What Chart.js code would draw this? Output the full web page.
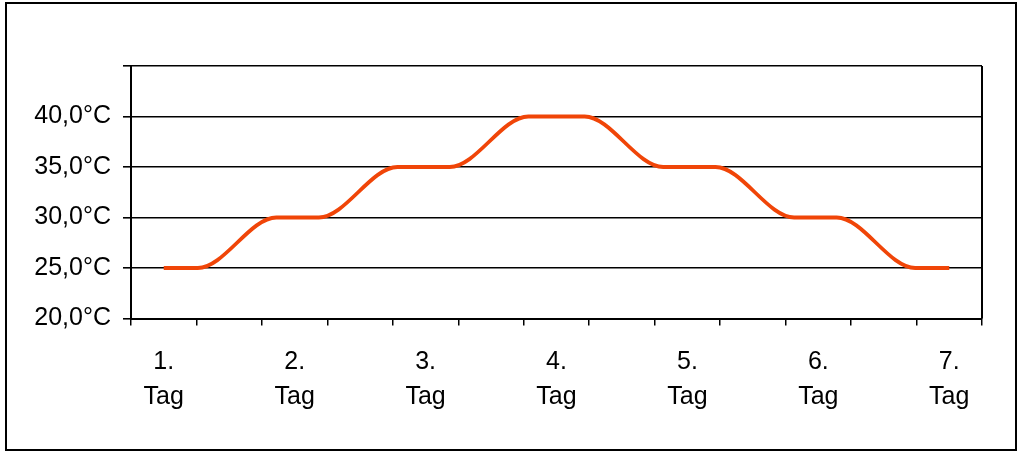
<!DOCTYPE html>
<html>
<head>
<meta charset="utf-8">
<script src="https://cdn.jsdelivr.net/npm/chart.js@4"></script>
<style>
  html, body { margin: 0; padding: 0; background: #fff; }
  #wrap { position: relative; width: 1024px; height: 459px; }
  #frame { position: absolute; left: 5px; top: 2px; width: 1008px; height: 445px; border: 2px solid #000; }
  canvas { position: absolute; left: 0; top: 0; }
</style>
</head>
<body>
<div id="wrap">
  <div id="frame"></div>
  <canvas id="c" width="1024" height="459"></canvas>
</div>
<script>
// ---- data ----
const dayLabels = ["1.", "2.", "3.", "4.", "5.", "6.", "7."];
const dayWord = "Tag";
// positions in half-day category units (0 = day 1, 2 = day 2, ...)
// start / end of each temperature plateau
const pointPos = [0, 0.52, 1.72, 2.37, 3.57, 4.37, 5.57, 6.43, 7.63, 8.43, 9.63, 10.28, 11.48, 12];
const temps    = [25, 25,  30,   30,   35,   35,   40,   40,   35,   35,   30,   30,    25,    25];
const yTicks = [20, 25, 30, 35, 40, 45];

// 13 category slots: a day label every other slot
const categories = [];
dayLabels.forEach((d, i) => {
  categories.push([d, dayWord]);
  if (i < dayLabels.length - 1) categories.push("");
});

const points = pointPos.map((x, i) => ({ x: x, y: temps[i] }));

const FONT = "'Liberation Sans', Arial, sans-serif";

new Chart(document.getElementById('c'), {
  type: 'line',
  data: {
    labels: categories,
    datasets: [{
      data: points,
      xAxisID: 'xd',
      yAxisID: 'y',
      borderColor: '#F04508',
      borderWidth: 3.8,
      pointRadius: 0,
      fill: false,
      cubicInterpolationMode: 'monotone'
    }]
  },
  options: {
    responsive: false,
    animation: false,
    devicePixelRatio: 1,
    layout: { padding: { left: 0, right: 42, top: 66, bottom: 0 } },
    plugins: { legend: { display: false }, tooltip: { enabled: false } },
    scales: {
      x: {
        type: 'category',
        position: 'bottom',
        offset: true,
        grid: { offset: true, drawOnChartArea: false, drawTicks: true, tickLength: 7, color: '#000', lineWidth: 1.5 },
        border: { color: '#000', width: 2 },
        ticks: {
          autoSkip: false, maxRotation: 0, padding: 19,
          color: '#000', font: { family: FONT, size: 25, lineHeight: 1.4 }
        },
        afterFit: s => { s.height = 459 - 318.5; }
      },
      xd: {
        type: 'linear',
        display: false,
        min: -0.5,
        max: 12.5
      },
      y: {
        type: 'linear',
        position: 'left',
        min: 20,
        max: 45,
        afterBuildTicks: s => { s.ticks = yTicks.map(v => ({ value: v })); },
        grid: { color: '#000', lineWidth: 1.6, tickLength: 8 },
        border: { color: '#000', width: 2 },
        ticks: {
          padding: 12,
          color: '#000',
          font: { family: FONT, size: 25 },
          callback: v => (v === 45 ? '' : v.toFixed(1).replace('.', ',') + '°C')
        },
        afterFit: s => { s.width = 131; }
      }
    }
  },
  plugins: [{
    id: 'rightBorder',
    afterDraw(chart) {
      const a = chart.chartArea, ctx = chart.ctx;
      ctx.save();
      ctx.strokeStyle = '#000';
      ctx.lineWidth = 2;
      ctx.beginPath();
      ctx.moveTo(a.right, a.top);
      ctx.lineTo(a.right, a.bottom);
      ctx.stroke();
      ctx.restore();
    }
  }]
});
</script>
</body>
</html>
